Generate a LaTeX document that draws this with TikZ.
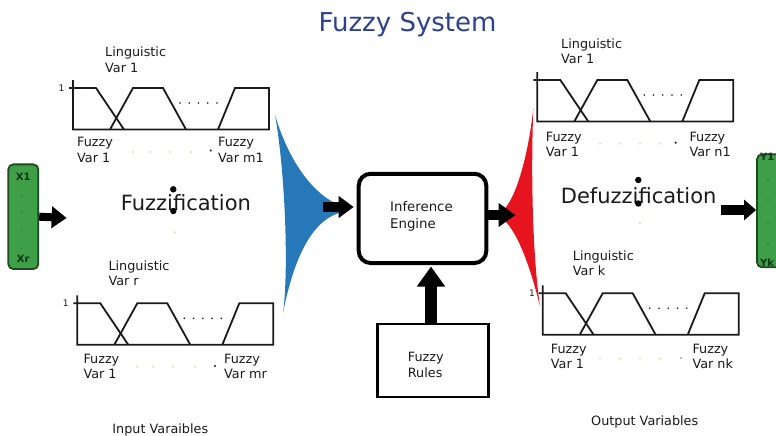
\documentclass[tikz,border=0pt]{standalone}
\usepackage{fontspec}
\setmainfont{DejaVu Sans}
\usetikzlibrary{arrows.meta}

\definecolor{ink}{HTML}{1A1A1A}
\definecolor{titleblue}{HTML}{2C4190}
\definecolor{fanblue}{HTML}{2678B9}
\definecolor{fanred}{HTML}{E6141E}
\definecolor{boxgreen}{HTML}{3F9F48}
\definecolor{boxedge}{HTML}{1D4A20}
\definecolor{palefaint}{HTML}{E9E6C4}

% one membership-function chart; origin = axis foot of the "1" level
\newcommand\mfchart[2]{%
  \begin{scope}[shift={(#1,#2)}]
    \draw[mfline] (0,-8) -- (0,41.5) -- (196,41.5) -- (196,0) -- (162,0) -- (145,41.5);
    \draw[mfline] (-4,0) -- (23,0) -- (51,41.5);
    \draw[mfline] (37,41.5) -- (60,0) -- (90,0) -- (113,41.5);
    \foreach \dx in {107,116.25,125.5,134.75,144} \fill[ink] (\dx,15) circle (0.9);
  \end{scope}}

\begin{document}
\begin{tikzpicture}[x=1pt,y=-1pt,
  mfline/.style={draw=ink, line width=1.8pt},
  lbl/.style={font=\fontsize{12.8}{15.5}\selectfont, text=ink, inner sep=0pt, align=left, anchor=base west},
  onelbl/.style={font=\fontsize{9}{10}\selectfont, text=ink, inner sep=0pt, anchor=east},
  bigword/.style={font=\fontsize{21}{25}\selectfont, text=ink, inner sep=0pt, anchor=base west},
  varbox/.style={draw=boxedge, fill=boxgreen, line width=1.8pt, rounded corners=5pt, minimum width=30pt, inner sep=0pt},
  vartext/.style={font=\bfseries\fontsize{10}{11}\selectfont, text=boxedge!70!black, inner sep=0pt},
  fatarrow/.style={draw=black, line width=#1},
  fatarrow/.default=10pt,
  bigdot/.style={fill=black},
]
\useasboundingbox (0,0) rectangle (776,436);
\clip (0,0) rectangle (776,436);

% title
\node[font=\fontsize{26}{30}\selectfont, text=titleblue, inner sep=0pt, anchor=base] (title) at (407.5,31.7) {Fuzzy System};

% input and output variable bars
\node[varbox, minimum height=104.7pt] (xbox) at (23.3,216.7) {};
\node[vartext] (x1) at (23.3,177) {X1};
\node[vartext] (xr) at (23.3,259) {Xr};
\foreach \yy in {196.7,211.7,230,248} \fill[boxedge!60!boxgreen] (21.7,\yy) circle (0.8);

\node[varbox, minimum height=113pt] (ybox) at (772,210.8) {};
\node[vartext, anchor=west] (y1) at (760,157) {Y1};
\node[vartext, anchor=west] (yk) at (760,263) {Yk};
\foreach \yy in {180,200,222,244} \fill[boxedge!60!boxgreen] (768,\yy) circle (0.8);

% membership-function charts
\mfchart{73}{88}
\mfchart{77.3}{303.3}
\mfchart{537.3}{80}
\mfchart{542.7}{293.3}
\node[onelbl] (oneA) at (64.5,88) {1};
\node[onelbl] (oneB) at (68.8,303.3) {1};
\node[onelbl] (oneD) at (535,293.3) {1};

% chart labels (anchored on the baseline of the second line)
\node[lbl] (lvA) at (105,72.2) {Linguistic\\Var 1};
\node[lbl] (fvA1) at (77,162) {Fuzzy\\Var 1};
\node[lbl] (fvAm) at (218,162) {Fuzzy\\Var m1};
\node[lbl] (lvB) at (108.3,285.5) {Linguistic\\Var r};
\node[lbl] (fvB1) at (83.3,378.5) {Fuzzy\\Var 1};
\node[lbl] (fvBm) at (224,378.5) {Fuzzy\\Var mr};
\node[lbl] (lvC) at (561,63.5) {Linguistic\\Var 1};
\node[lbl] (fvC1) at (545.7,156.5) {Fuzzy\\Var 1};
\node[lbl] (fvCn) at (689.3,156.5) {Fuzzy\\Var n1};
\node[lbl] (lvD) at (572.7,275.5) {Linguistic\\Var k};
\node[lbl] (fvD1) at (550.7,368.8) {Fuzzy\\Var 1};
\node[lbl] (fvDn) at (692.3,368.8) {Fuzzy\\Var nk};

% faint dot rows between first and last fuzzy variable
\foreach \xx in {133,150,170,191} \fill[palefaint] (\xx,152) circle (1.5);
\fill[ink] (210.7,150.5) circle (1.2);
\foreach \xx in {137,153,173,195} \fill[palefaint] (\xx,366.7) circle (1.5);
\fill[ink] (215,366) circle (1.2);
\foreach \xx in {600,620,640,660} \fill[palefaint] (\xx,143.3) circle (1.5);
\fill[ink] (675.7,142.7) circle (1.2);
\foreach \xx in {600,620,640,660} \fill[palefaint] (\xx,358.3) circle (1.5);
\fill[ink!60] (681,358) circle (0.9);

% stage names with vertical ellipsis
\node[bigword] (fuzz) at (120.7,210.7) {Fuzzification};
\fill[bigdot] (173.3,189.3) circle (3.2);
\fill[bigdot] (173.3,211) circle (3.2);
\fill[palefaint] (175,232.5) circle (1.6);
\node[bigword] (defuzz) at (560.7,203.3) {Defuzzification};
\fill[bigdot] (638.3,180) circle (3.2);
\fill[bigdot] (638.3,203.5) circle (3.2);
\fill[palefaint] (640,223) circle (1.6);

% bottom captions
\node[lbl, anchor=base] (inlbl) at (160.3,433) {Input Varaibles};
\node[lbl, anchor=base] (outlbl) at (644.7,425) {Output Variables};

% aggregation fans
\fill[fanblue] (275,115) .. controls (290,165) and (315,195) .. (339,205)
  -- (339,213) .. controls (310,222) and (293,262) .. (283,313)
  .. controls (289,270) and (285,170) .. (275,115) -- cycle;
\fill[fanred] (533.3,108.3) .. controls (529,150) and (518,192) .. (506,207)
  .. controls (503,212) and (503,218) .. (506,222)
  .. controls (518,235) and (530,265) .. (540,306.7)
  .. controls (532,250) and (531,170) .. (533.3,108.3) -- cycle;

% inference engine and rule base
\node[draw=black, line width=4pt, rounded corners=12pt, minimum width=127.6pt, minimum height=89.3pt, inner sep=0pt] (engine) at (422.5,218.4) {};
\node[lbl, font=\fontsize{13.3}{16.6}\selectfont] (enginetext) at (390,228.3) {Inference\\Engine};
\node[draw=black, line width=2.7pt, minimum width=111.4pt, minimum height=73pt, inner sep=0pt] (rules) at (433,360.5) {};
\node[lbl] (rulestext) at (407.7,377.2) {Fuzzy\\Rules};

% flow arrows
\coordinate (inend) at (66.7,218);
\coordinate (bluetip) at (323,207);
\coordinate (redtip) at (515.5,215);
\coordinate (outstart) at (720.7,210);
\draw[fatarrow=8pt, -{Triangle[length=15pt,width=21pt]}] (xbox.east) -- (inend);
\draw[fatarrow=10pt, -{Triangle[length=15pt,width=21pt]}, shorten >=3pt] (bluetip) -- (bluetip -| engine.west);
\draw[fatarrow=10pt, -{Triangle[length=17pt,width=23pt]}] (engine.east |- redtip) -- (redtip);
\draw[fatarrow=12pt, -{Triangle[length=20pt,width=27pt]}] (rules.north -| 431,0) -- (431,266.5);
\draw[fatarrow=10pt, -{Triangle[length=12pt,width=20pt]}] (outstart) -- (outstart -| ybox.west);
\end{tikzpicture}
\end{document}
